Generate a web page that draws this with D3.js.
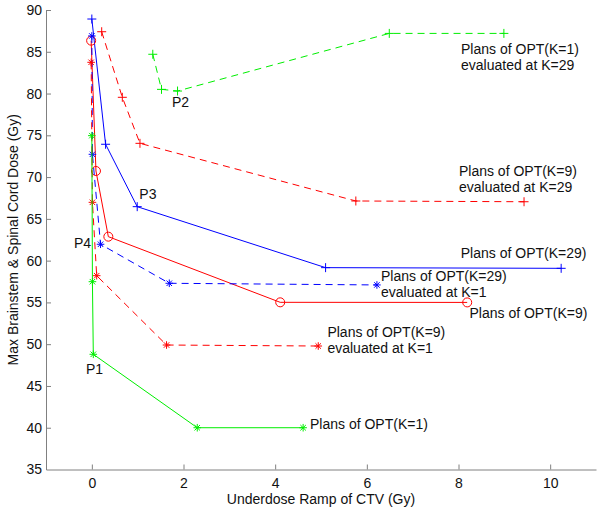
<!DOCTYPE html>
<html><head><meta charset="utf-8">
<script src="https://cdn.jsdelivr.net/npm/d3@7"></script>
<style>
html,body{margin:0;padding:0;background:#fff;}
svg text{font-family:"Liberation Sans",Arial,Helvetica,sans-serif;}
</style></head>
<body>
<svg id="c" width="600" height="512"></svg>
<script>
// ---- data ----
const xTicks = [0, 2, 4, 6, 8, 10];
const yTicks = [35, 40, 45, 50, 55, 60, 65, 70, 75, 80, 85, 90];

const k1EvalK29   = [[1.33,84.7],[1.52,80.5],[1.87,80.3],[6.49,87.2],[8.99,87.2]];
const k9EvalK29   = [[0.215,87.4],[0.665,79.55],[1.05,74.04],[5.76,67.14],[9.43,67.05]];
const k29Plans    = [[0.0,88.92],[0.30,73.93],[0.99,66.46],[5.10,59.16],[10.24,59.08]];
const k9Plans     = [[-0.015,86.33],[0.09,70.73],[0.36,62.87],[4.11,55.01],[8.19,55.0]];
const k29EvalK1   = [[0.0,86.89],[0.013,72.73],[0.19,61.96],[1.69,57.29],[6.22,57.09]];
const k9EvalK1    = [[-0.015,83.74],[0.013,66.98],[0.106,58.2],[1.63,49.9],[4.94,49.78]];
const k1Plans     = [[0.0,74.96],[0.013,57.48],[0.032,48.79],[2.30,40.0],[4.61,40.0]];

const seriesNames  = ["k1EvalK29","k9EvalK29","k29Plans","k9Plans","k29EvalK1","k9EvalK1","k1Plans"];
const seriesData   = [k1EvalK29,k9EvalK29,k29Plans,k9Plans,k29EvalK1,k9EvalK1,k1Plans];
const seriesColor  = ["#00ee00","#ff0000","#0000ff","#ff0000","#0000ff","#ff0000","#00ee00"];
const seriesDashed = [true,true,false,false,true,true,false];
const seriesMarker = ["plus","plus","plus","circle","star","star","star"];

const labelTexts = [
  ["Plans of OPT(K=1)","evaluated at K=29"],
  ["Plans of OPT(K=9)","evaluated at K=29"],
  ["Plans of OPT(K=29)"],
  ["Plans of OPT(K=29)","evaluated at K=1"],
  ["Plans of OPT(K=9)"],
  ["Plans of OPT(K=9)","evaluated at K=1"],
  ["Plans of OPT(K=1)"]
];
const labelAnchors = [[8.055,85.30],[8.01,70.73],[8.05,60.88],[6.31,58.16],[8.24,53.70],[5.14,51.42],[4.76,40.41]];
const pointLabels  = ["P1","P2","P3","P4"];
const pointAnchors = [[-0.127,46.97],[1.75,79.02],[1.036,67.98],[-0.389,62.15]];

const xLabel = "Underdose Ramp of CTV (Gy)";
const yLabel = "Max Brainstem & Spinal Cord Dose (Gy)";

// ---- layout ----
const svg = d3.select("#c");
const x = d3.scaleLinear().domain([-1, 11]).range([46, 596]);
const y = d3.scaleLinear().domain([35, 90]).range([469.5, 10]);
const axisColor = "#808080";

// axes
const gx = svg.append("g").attr("transform", `translate(0,${y(35)})`)
  .call(d3.axisBottom(x).tickValues(xTicks).tickSize(-5).tickPadding(9).tickSizeOuter(0));
const gy = svg.append("g").attr("transform", `translate(${x(-1)},0)`)
  .call(d3.axisLeft(y).tickValues(yTicks).tickSize(-5).tickPadding(4).tickSizeOuter(0));
[gx, gy].forEach(g => {
  g.select(".domain").attr("stroke", axisColor).attr("stroke-width", 1);
  g.selectAll(".tick line").attr("stroke", axisColor);
  g.selectAll(".tick text").attr("fill", "#111").attr("font-size", 14)
   .attr("font-family", "Liberation Sans, Arial, Helvetica, sans-serif");
});
gy.selectAll(".tick").filter(d => d === 35).select("line").remove();

svg.append("text").attr("x", (x(-1) + x(11)) / 2).attr("y", 504)
  .attr("text-anchor", "middle").attr("font-size", 14).attr("fill", "#111").text(xLabel);
svg.append("text").attr("transform", `translate(18,${(y(35)+y(90))/2}) rotate(-90)`)
  .attr("text-anchor", "middle").attr("font-size", 14).attr("fill", "#111").text(yLabel);

// series
const line = d3.line().x(d => x(d[0])).y(d => y(d[1]));
seriesData.forEach((data, i) => {
  const col = seriesColor[i];
  const g = svg.append("g").attr("class", seriesNames[i]);
  g.append("path").attr("d", line(data)).attr("fill", "none").attr("stroke", col)
    .attr("stroke-width", 1).attr("stroke-dasharray", seriesDashed[i] ? "7,5" : null);
  data.forEach(d => {
    const cx = x(d[0]), cy = y(d[1]);
    const m = seriesMarker[i];
    if (m === "circle") {
      g.append("circle").attr("cx", cx).attr("cy", cy).attr("r", 4.5)
        .attr("fill", "none").attr("stroke", col).attr("stroke-width", 1);
    } else {
      const s = m === "plus" ? 4.5 : 3.8;
      let p = `M${cx-s},${cy}H${cx+s}M${cx},${cy-s}V${cy+s}`;
      if (m === "star") {
        const t = s * 0.72;
        p += `M${cx-t},${cy-t}L${cx+t},${cy+t}M${cx-t},${cy+t}L${cx+t},${cy-t}`;
      }
      g.append("path").attr("d", p).attr("stroke", col).attr("stroke-width", 1).attr("fill", "none");
    }
  });
});

// annotations
labelTexts.forEach((lines, i) => {
  const t = svg.append("text").attr("x", x(labelAnchors[i][0])).attr("y", y(labelAnchors[i][1]))
    .attr("font-size", 14).attr("fill", "#111");
  lines.forEach((s, j) => t.append("tspan").attr("x", x(labelAnchors[i][0]))
    .attr("dy", j === 0 ? "0.35em" : 16).text(s));
});
pointLabels.forEach((s, i) => {
  svg.append("text").attr("x", x(pointAnchors[i][0])).attr("y", y(pointAnchors[i][1]))
    .attr("dy", "0.35em").attr("font-size", 14).attr("fill", "#111").text(s);
});
</script>
</body></html>
